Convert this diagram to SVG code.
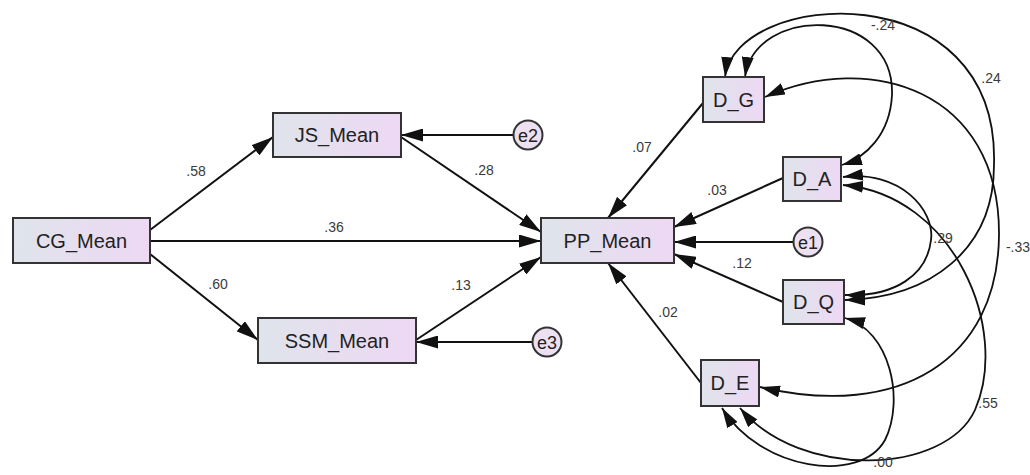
<svg xmlns="http://www.w3.org/2000/svg" width="1030" height="475" viewBox="0 0 1030 475">
<defs>
<linearGradient id="nf" x1="0" y1="0" x2="1" y2="0">
<stop offset="0" stop-color="#dfe4eb"/>
<stop offset="1" stop-color="#eed8f4"/>
</linearGradient>
<marker id="ah" markerUnits="userSpaceOnUse" viewBox="0 0 22 13" refX="22" refY="6.5" markerWidth="22" markerHeight="13" orient="auto-start-reverse">
<path d="M0,0 L22,6.5 L0,13 z" fill="#111"/>
</marker>
<marker id="ch" markerUnits="userSpaceOnUse" viewBox="0 0 20 12" refX="20" refY="6" markerWidth="20" markerHeight="12" orient="auto-start-reverse">
<path d="M0,0 L20,6 L0,12 z" fill="#111"/>
</marker>
<style>
.box{fill:url(#nf);stroke:#333;stroke-width:2}
.err{fill:#ede1f1;stroke:#333;stroke-width:2}
.nt{font-family:"Liberation Sans",Arial,sans-serif;font-size:20px;fill:#222;text-anchor:middle}
.et{font-family:"Liberation Sans",Arial,sans-serif;font-size:18px;fill:#222;text-anchor:middle}
.lb{font-family:"Liberation Sans",Arial,sans-serif;font-size:14px;fill:#3a3a3a;text-anchor:middle}
.ln{fill:none;stroke:#111;stroke-width:2;marker-end:url(#ah)}
.cv{fill:none;stroke:#111;stroke-width:1.8;marker-start:url(#ch);marker-end:url(#ch)}
</style>
</defs>
<rect width="1030" height="475" fill="#fff"/>
<g id="connectors">
<path class="ln" d="M150,230 L273,137"/>
<path class="ln" d="M150,254 L258,340"/>
<path class="ln" d="M150,241 L541,241"/>
<path class="ln" d="M401,137 L541,232"/>
<path class="ln" d="M416,340 L541,257"/>
<path class="ln" d="M514,135 L401,135"/>
<path class="ln" d="M532,342 L416,342"/>
<path class="ln" d="M794,242 L674,242"/>
<path class="ln" d="M703,103 L608,218"/>
<path class="ln" d="M783,178 L674,227"/>
<path class="ln" d="M783,302 L674,254"/>
<path class="ln" d="M701,383 L608,263"/>
<path class="cv" d="M745,77 C755,5 895,5 892,95 C890,135 865,158 842,165"/>
<path class="cv" d="M725,77 C735,-10 1000,-30 994,165 C994,250 930,298 845,300"/>
<path class="cv" d="M765,97 C870,50 1000,90 999,235 C998,360 900,420 760,387"/>
<path class="cv" d="M843,177 C900,170 935,210 931,240 C927,275 895,297 845,295"/>
<path class="cv" d="M843,185 C955,195 1010,330 975,410 C945,475 800,480 740,408"/>
<path class="cv" d="M845,318 C890,330 905,400 885,440 C860,485 760,470 722,408"/>
</g>
<g id="labels">
<text class="lb" x="196" y="176">.58</text>
<text class="lb" x="218" y="289">.60</text>
<text class="lb" x="334" y="232">.36</text>
<text class="lb" x="484" y="175">.28</text>
<text class="lb" x="461" y="290">.13</text>
<text class="lb" x="642" y="152">.07</text>
<text class="lb" x="717" y="195">.03</text>
<text class="lb" x="742" y="268">.12</text>
<text class="lb" x="668" y="317">.02</text>
<text class="lb" x="883" y="30">-.24</text>
<text class="lb" x="991" y="83">.24</text>
<text class="lb" x="943" y="243">.29</text>
<text class="lb" x="1018" y="252">-.33</text>
<text class="lb" x="988" y="408">.55</text>
<text class="lb" x="883" y="467">.00</text>
</g>
<g id="CG_Mean"><rect class="box" x="13" y="218" width="137" height="45"/><text class="nt" x="81.5" y="248">CG_Mean</text></g>
<g id="JS_Mean"><rect class="box" x="273" y="113" width="128" height="44"/><text class="nt" x="337" y="142">JS_Mean</text></g>
<g id="SSM_Mean"><rect class="box" x="258" y="318" width="158" height="45"/><text class="nt" x="337" y="348">SSM_Mean</text></g>
<g id="PP_Mean"><rect class="box" x="541" y="218" width="133" height="45"/><text class="nt" x="607.5" y="248">PP_Mean</text></g>
<g id="D_G"><rect class="box" x="703" y="77" width="61" height="45"/><text class="nt" x="733.5" y="107">D_G</text></g>
<g id="D_A"><rect class="box" x="783" y="157" width="58" height="44"/><text class="nt" x="812" y="186">D_A</text></g>
<g id="D_Q"><rect class="box" x="783" y="280" width="61" height="44"/><text class="nt" x="813.5" y="309">D_Q</text></g>
<g id="D_E"><rect class="box" x="701" y="360" width="58" height="46"/><text class="nt" x="730" y="390">D_E</text></g>
<g id="e2"><circle class="err" cx="528" cy="135" r="14.5"/><text class="et" x="528" y="141.5">e2</text></g>
<g id="e3"><circle class="err" cx="547" cy="342" r="14.5"/><text class="et" x="547" y="348.5">e3</text></g>
<g id="e1"><circle class="err" cx="808" cy="242" r="14.5"/><text class="et" x="808" y="248.5">e1</text></g>
</svg>
